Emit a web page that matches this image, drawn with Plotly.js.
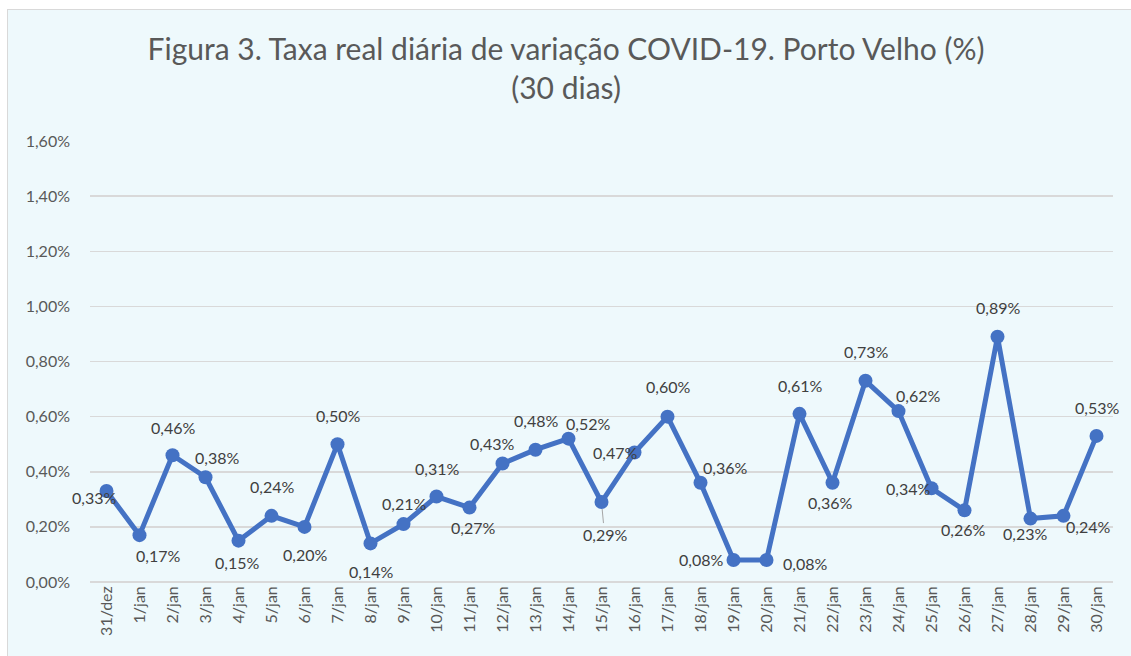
<!DOCTYPE html>
<html>
<head>
<meta charset="utf-8">
<script src="https://cdn.plot.ly/plotly-3.0.1.min.js"></script>
<style>
html,body{margin:0;padding:0;background:#ffffff;width:1131px;height:656px;overflow:hidden;}
#chart{position:absolute;left:7px;top:9px;width:1124px;height:647px;border-left:1px solid #D9D9D9;border-top:1px solid #D9D9D9;box-sizing:border-box;}
</style>
</head>
<body>
<div id="chart"></div>
<script>
const categories = ['31/dez','1/jan','2/jan','3/jan','4/jan','5/jan','6/jan','7/jan','8/jan','9/jan','10/jan',
  '11/jan','12/jan','13/jan','14/jan','15/jan','16/jan','17/jan','18/jan','19/jan','20/jan',
  '21/jan','22/jan','23/jan','24/jan','25/jan','26/jan','27/jan','28/jan','29/jan','30/jan'];
const taxa = [0.33,0.17,0.46,0.38,0.15,0.24,0.20,0.50,0.14,0.21,0.31,
  0.27,0.43,0.48,0.52,0.29,0.47,0.60,0.36,0.08,0.08,
  0.61,0.36,0.73,0.62,0.34,0.26,0.89,0.23,0.24,0.53];
const yTicks = [0,0.2,0.4,0.6,0.8,1.0,1.2,1.4,1.6];
const yTickLabels = ['0,00%','0,20%','0,40%','0,60%','0,80%','1,00%','1,20%','1,40%','1,60%'];

// label offsets in pixels (dx right, dy down) - style only
const labelOffsets = [[-13,6],[18,20],[0,-28],[11,-20],[-2,22],[0,-29],[0,28],[0,-29],[0,28],[0,-21],[0,-28],
  [3,20],[-11,-20],[0,-29],[19,-15],[3,32],[-20,0],[0,-30],[24,-15],[-33,0],[38,4],
  [0,-28],[-3,20],[0,-29],[19,-16],[-24,0],[-2,19],[0,-29],[-6,15],[24,11],[0,-28]];

const fmt = v => v.toFixed(2).replace('.', ',') + '%';
const FONT = 'Lato, "Open Sans", sans-serif';

const annotations = categories.map((c, i) => {
  const a = {
    x: c, y: taxa[i], xref: 'x', yref: 'y',
    text: fmt(taxa[i]),
    font: {family: FONT, size: 16, color: '#404040'},
    bgcolor: 'rgba(0,0,0,0)'
  };
  if (i === 15) {
    a.showarrow = true; a.arrowhead = 0; a.arrowwidth = 1; a.arrowcolor = '#A6A6A6';
    a.ax = labelOffsets[i][0]; a.ay = labelOffsets[i][1]; a.standoff = 7;
  } else {
    a.showarrow = false;
    a.xshift = labelOffsets[i][0]; a.yshift = -labelOffsets[i][1];
  }
  return a;
});

const trace = {
  type: 'scatter', mode: 'lines+markers',
  x: categories, y: taxa,
  line: {color: '#4472C4', width: 5},
  marker: {color: '#4472C4', size: 14},
  hoverinfo: 'x+y'
};

const layout = {
  width: 1124, height: 647,
  paper_bgcolor: '#EEF9FC', plot_bgcolor: '#EEF9FC',
  margin: {l: 82, r: 19, t: 131, b: 75},
  font: {family: FONT, color: '#595959'},
  showlegend: false,
  title: {
    text: 'Figura 3. Taxa real diária de variação COVID-19. Porto Velho (%)<br>(30 dias)',
    font: {family: FONT, size: 30, color: '#595959'},
    x: 0.4965, xref: 'container', xanchor: 'center',
    y: 0.923, yref: 'container', yanchor: 'top'
  },
  xaxis: {
    type: 'category', range: [-0.5, 30.5],
    showgrid: false, zeroline: false, showline: false,
    ticks: '', tickangle: -90,
    tickfont: {family: FONT, size: 16, color: '#595959'},
    fixedrange: true
  },
  yaxis: {
    range: [0, 1.6], tickmode: 'array', tickvals: yTicks, ticktext: yTickLabels,
    showgrid: true, gridcolor: '#D9D9D9', gridwidth: 1.5,
    zeroline: true, zerolinecolor: '#D9D9D9', zerolinewidth: 1.5,
    showline: false, ticks: '',
    tickfont: {family: FONT, size: 16, color: '#595959'},
    ticklabelstandoff: 19,
    fixedrange: true
  },
  annotations: annotations
};

Plotly.newPlot('chart', [trace], layout, {displayModeBar: false, staticPlot: true});
</script>
</body>
</html>
